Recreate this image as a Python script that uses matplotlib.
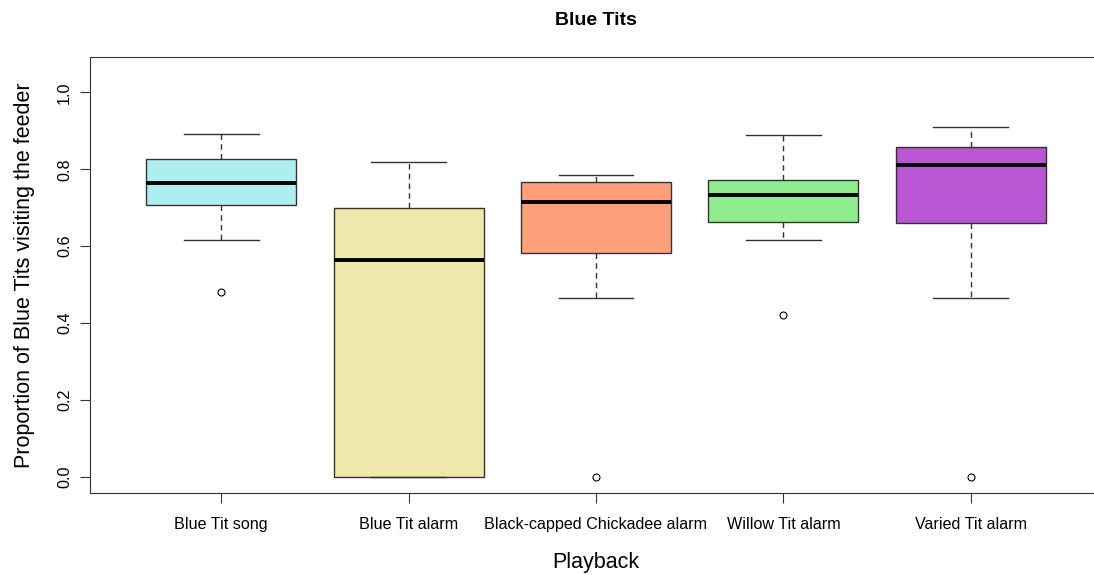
import matplotlib
matplotlib.use('Agg')
import matplotlib.pyplot as plt

plt.rcParams['font.family'] = ['Liberation Sans', 'DejaVu Sans']

groups = ['Blue Tit song', 'Blue Tit alarm', 'Black-capped Chickadee alarm',
          'Willow Tit alarm', 'Varied Tit alarm']
whisk_lo = [0.615, 0.0, 0.466, 0.615, 0.466]
q1 = [0.706, 0.0, 0.583, 0.664, 0.659]
med = [0.763, 0.565, 0.714, 0.732, 0.810]
q3 = [0.826, 0.698, 0.766, 0.773, 0.857]
whisk_hi = [0.893, 0.820, 0.786, 0.888, 0.909]
outliers = [[0.482], [], [0.0], [0.422], [0.0]]
colors = ['#AFEEEE', '#EEE8AA', '#FFA07A', '#90EE90', '#BA55D3']

stats = []
for i in range(len(groups)):
    stats.append(dict(label=groups[i], whislo=whisk_lo[i], q1=q1[i], med=med[i],
                      q3=q3[i], whishi=whisk_hi[i], fliers=outliers[i]))

fig = plt.figure(figsize=(10.94, 5.75), dpi=100)
ax = fig.add_axes([90/1094, 1-493/575, (1102-90)/1094, (493-57)/575])

bp = ax.bxp(stats, positions=range(1, 6), widths=0.8, patch_artist=True,
            boxprops=dict(edgecolor='#333333', linewidth=1),
            medianprops=dict(color='black', linewidth=2.8),
            whiskerprops=dict(color='#333333', linestyle=(0, (4, 3)), linewidth=1),
            capprops=dict(color='#333333', linewidth=1),
            capwidths=0.4,
            flierprops=dict(marker='o', markersize=5, markerfacecolor='white',
                            markeredgecolor='black', markeredgewidth=0.8))
for patch, c in zip(bp['boxes'], colors):
    patch.set_facecolor(c)

ax.set_xlim(0.3, 5.7)
ax.set_ylim(-0.042, 1.092)
ax.set_yticks([0.0, 0.2, 0.4, 0.6, 0.8, 1.0])
ax.set_yticklabels(['0.0', '0.2', '0.4', '0.6', '0.8', '1.0'], rotation=90, va='center')
ax.tick_params(labelsize=11.6, length=7, color='#333333')
ax.tick_params(axis='x', pad=10)
ax.tick_params(axis='y', pad=6)
for s in ax.spines.values():
    s.set_color('#333333')

ax.set_title('Blue Tits', fontsize=14, fontweight='bold', pad=23)
ax.set_xlabel('Playback', fontsize=15.5, labelpad=15)
ax.set_ylabel('Proportion of Blue Tits visiting the feeder', fontsize=15.5, labelpad=16)

fig.savefig('out.png', dpi=100)
